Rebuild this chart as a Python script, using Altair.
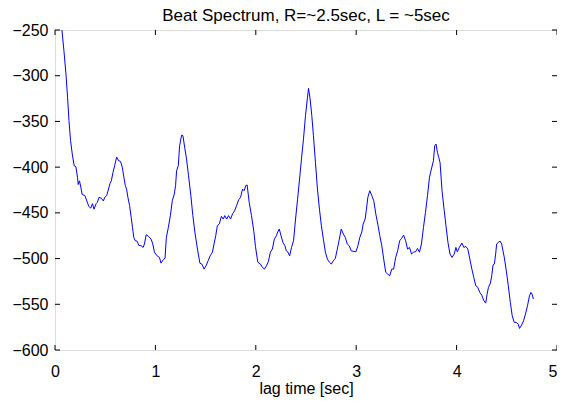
import altair as alt
import pandas as pd

lag_time = [
    0.069, 0.089, 0.109, 0.125, 0.139, 0.155, 0.172, 0.191, 0.208, 0.224,
    0.231, 0.244, 0.257, 0.271, 0.297, 0.317, 0.337, 0.356, 0.373, 0.389,
    0.409, 0.422, 0.439, 0.462, 0.482, 0.495, 0.515, 0.528, 0.548, 0.561,
    0.578, 0.594, 0.614, 0.634, 0.653, 0.670, 0.686, 0.700, 0.713, 0.726,
    0.743, 0.759, 0.772, 0.785, 0.799, 0.818, 0.835, 0.858, 0.878, 0.891,
    0.908, 0.931, 0.957, 0.974, 0.990, 1.017, 1.040, 1.056, 1.079, 1.096,
    1.109, 1.129, 1.149, 1.168, 1.188, 1.201, 1.211, 1.228, 1.241, 1.261,
    1.274, 1.294, 1.310, 1.330, 1.353, 1.373, 1.393, 1.419, 1.443, 1.462,
    1.485, 1.505, 1.525, 1.545, 1.568, 1.584, 1.601, 1.617, 1.637, 1.657,
    1.677, 1.690, 1.710, 1.729, 1.749, 1.769, 1.789, 1.809, 1.829, 1.848,
    1.868, 1.884, 1.901, 1.914, 1.934, 1.957, 1.980, 1.997, 2.020, 2.046,
    2.066, 2.086, 2.106, 2.125, 2.145, 2.165, 2.185, 2.205, 2.218, 2.234,
    2.251, 2.270, 2.290, 2.304, 2.320, 2.337, 2.356, 2.376, 2.396, 2.416,
    2.436, 2.455, 2.475, 2.495, 2.515, 2.525, 2.541, 2.558, 2.574, 2.594,
    2.614, 2.634, 2.653, 2.673, 2.693, 2.713, 2.733, 2.752, 2.772, 2.792,
    2.812, 2.832, 2.851, 2.871, 2.891, 2.911, 2.931, 2.950, 2.970, 2.997,
    3.017, 3.036, 3.056, 3.069, 3.089, 3.102, 3.116, 3.135, 3.155, 3.175,
    3.195, 3.215, 3.235, 3.255, 3.274, 3.294, 3.314, 3.334, 3.354, 3.373,
    3.393, 3.413, 3.433, 3.452, 3.472, 3.492, 3.512, 3.531, 3.551, 3.571,
    3.591, 3.611, 3.630, 3.650, 3.670, 3.690, 3.710, 3.730, 3.749, 3.769,
    3.782, 3.795, 3.809, 3.822, 3.835, 3.855, 3.875, 3.894, 3.914, 3.934,
    3.954, 3.977, 3.993, 4.007, 4.027, 4.053, 4.072, 4.092, 4.112, 4.132,
    4.152, 4.171, 4.191, 4.211, 4.231, 4.251, 4.271, 4.290, 4.304, 4.317,
    4.337, 4.350, 4.363, 4.376, 4.389, 4.399, 4.416, 4.433, 4.449, 4.462,
    4.475, 4.495, 4.515, 4.535, 4.554, 4.574, 4.594, 4.614, 4.627, 4.647,
    4.667, 4.686, 4.706, 4.726, 4.740, 4.752, 4.765,
]

beat_spectrum = [
    -250.0, -272.6, -298.0, -323.6, -349.0, -371.0, -385.7, -398.5, -399.6, -411.0,
    -419.0, -415.0, -422.0, -430.0, -431.0, -437.0, -443.0, -444.8, -440.0, -446.0,
    -440.0, -438.5, -433.0, -434.0, -437.0, -433.0, -431.0, -426.0, -417.7, -415.0,
    -405.7, -398.5, -389.0, -393.0, -393.7, -400.0, -411.0, -420.0, -424.0, -433.0,
    -442.0, -455.0, -466.0, -477.0, -480.5, -481.0, -485.6, -486.0, -487.8, -484.0,
    -474.0, -475.7, -478.7, -484.0, -493.0, -497.0, -498.7, -505.0, -501.0, -499.7,
    -476.8, -466.0, -453.0, -436.8, -429.5, -420.0, -404.0, -398.5, -376.6, -365.0,
    -365.6, -380.0, -391.0, -409.4, -431.0, -453.0, -471.0, -489.6, -505.0, -506.0,
    -511.5, -507.8, -502.4, -497.0, -493.0, -484.0, -475.0, -464.0, -462.0, -453.8,
    -456.8, -453.0, -456.8, -453.0, -456.8, -451.0, -447.7, -442.0, -435.7, -433.0,
    -424.0, -425.8, -420.0, -419.6, -438.5, -453.0, -470.0, -487.0, -504.0, -506.0,
    -509.6, -511.5, -508.0, -503.5, -493.0, -489.6, -478.7, -475.0, -471.0, -467.7,
    -475.0, -482.3, -486.0, -491.5, -493.0, -497.0, -487.8, -480.5, -456.8, -435.0,
    -413.0, -391.0, -369.0, -343.8, -323.6, -313.8, -325.5, -343.8, -365.6, -394.8,
    -424.0, -446.0, -464.0, -478.7, -493.0, -500.6, -504.0, -506.0, -502.4, -499.8,
    -489.6, -478.7, -467.7, -473.0, -476.8, -484.0, -486.0, -491.5, -492.0, -492.6,
    -486.0, -476.8, -471.0, -462.3, -456.8, -446.0, -433.0, -425.8, -431.0, -436.8,
    -451.0, -462.3, -475.0, -486.0, -500.6, -515.0, -517.0, -518.8, -511.5, -511.5,
    -498.7, -491.5, -480.5, -478.0, -474.3, -480.5, -489.6, -487.8, -495.0, -493.0,
    -492.6, -488.9, -493.0, -484.0, -466.0, -449.5, -431.3, -411.0, -402.0, -393.0,
    -376.6, -374.7, -383.8, -389.3, -394.8, -425.8, -446.0, -464.0, -482.3, -495.0,
    -498.7, -495.0, -487.8, -492.6, -487.8, -483.0, -487.8, -486.7, -489.6, -500.6,
    -511.5, -520.6, -529.7, -531.5, -537.0, -540.0, -546.0, -548.7, -538.9, -531.5,
    -526.8, -518.8, -507.0, -506.0, -495.0, -484.0, -482.3, -480.9, -484.0, -491.5,
    -498.7, -513.4, -529.7, -548.0, -562.6, -569.8, -569.8, -571.7, -576.4, -572.8,
    -568.0, -560.7, -551.7, -540.7, -537.0, -538.9, -544.3,
]

x_ticks = [0, 1, 2, 3, 4, 5]
y_ticks = [-600, -550, -500, -450, -400, -350, -300, -250]

W, H = 502, 320
FONT = "Liberation Sans"
TICK = 5

df = pd.DataFrame({"lag": lag_time, "val": beat_spectrum})
xt = pd.DataFrame({"t": x_ticks})
yt = pd.DataFrame({"t": y_ticks})

xscale = alt.Scale(domain=[0, 5], nice=False, zero=False)
yscale = alt.Scale(domain=[-600, -250], nice=False, zero=False)

line = alt.Chart(df).mark_line(color="#0000ff", strokeWidth=1, clip=True).encode(
    x=alt.X("lag:Q", scale=xscale,
            axis=alt.Axis(values=x_ticks, format="d", title="lag time [sec]",
                          ticks=False, domain=False, grid=False, labelPadding=13,
                          labelFontSize=16, titleFontSize=16, labelFont=FONT,
                          titleFont=FONT, titleFontWeight="normal",
                          labelColor="black", titleColor="black", titlePadding=1,
                          labelFlush=False,
                          labelAlign=alt.ExprRef("datum.value == 5 ? 'right' : 'center'"))),
    y=alt.Y("val:Q", scale=yscale,
            axis=alt.Axis(values=y_ticks, format="d", title=None, ticks=False,
                          domain=False, grid=False, labelPadding=7,
                          labelFontSize=16, labelFont=FONT, labelColor="black",
                          labelFlush=False)),
)

bottom = alt.Chart(xt).mark_rule(color="black", strokeWidth=1).encode(
    x=alt.X("t:Q", scale=xscale), y=alt.value(H), y2=alt.value(H - TICK))
top = alt.Chart(xt).mark_rule(color="black", strokeWidth=1).encode(
    x=alt.X("t:Q", scale=xscale), y=alt.value(0), y2=alt.value(TICK))
left = alt.Chart(yt).mark_rule(color="black", strokeWidth=1).encode(
    y=alt.Y("t:Q", scale=yscale), x=alt.value(0), x2=alt.value(TICK))
right = alt.Chart(yt).mark_rule(color="black", strokeWidth=1).encode(
    y=alt.Y("t:Q", scale=yscale), x=alt.value(W), x2=alt.value(W - TICK))

chart = alt.layer(line, bottom, top, left, right).properties(
    width=W, height=H,
    title=alt.TitleParams("Beat Spectrum, R=~2.5sec, L = ~5sec", font=FONT,
                          fontSize=17, fontWeight="normal", color="black",
                          anchor="middle", frame="group", baseline="alphabetic",
                          offset=0, dy=16),
    autosize=alt.AutoSizeParams(type="none"),
    padding={"left": 47, "top": 22, "right": 0, "bottom": 47},
).configure_view(stroke="black", strokeWidth=1).configure(background="white")

chart.save("out.html", embed_options={"renderer": "svg", "actions": False})
